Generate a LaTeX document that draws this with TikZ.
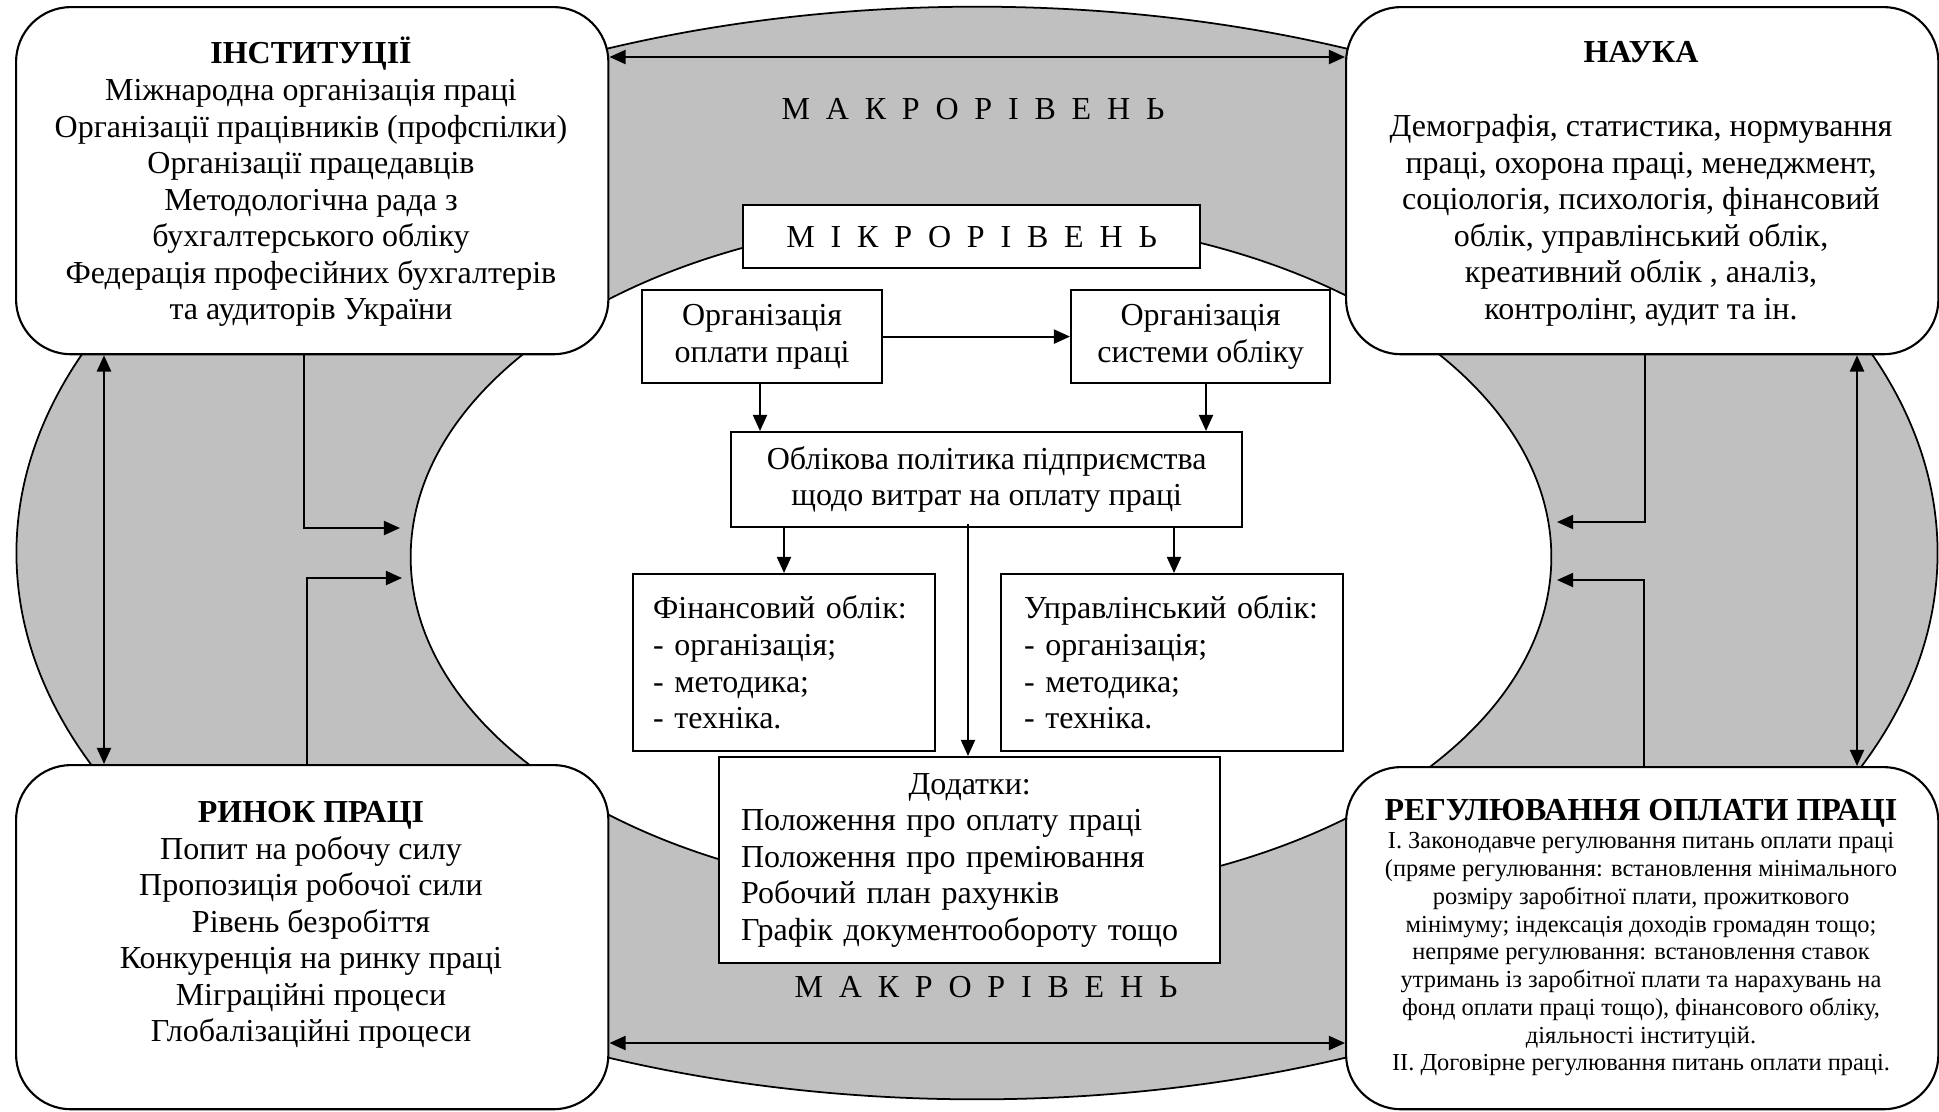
\documentclass[tikz,border=0pt]{standalone}
\usepackage{fontspec}
\setmainfont{Liberation Serif}
\usetikzlibrary{arrows.meta}
\definecolor{ringgray}{HTML}{C0C0C0}
\newcommand\Lgap{\hspace{4.5pt}}
\begin{document}
\begin{tikzpicture}[x=0.01cm,y=-0.01cm,
  font=\fontsize{9.1pt}{10.4pt}\selectfont,
  cbox/.style={draw, line width=0.6pt, fill=white, rounded corners=0.55cm, minimum width=5.92cm, inner sep=0pt, anchor=north west},
  sbox/.style={draw, line width=0.6pt, fill=white, align=center, inner sep=0pt, anchor=north west},
  lbox/.style={draw, line width=0.6pt, fill=white, align=left, inner ysep=0pt, anchor=north west},
  arr/.style={line width=0.6pt, -{Triangle[length=4.6pt,width=4pt]}},
  dbl/.style={line width=0.6pt, {Triangle[length=4.6pt,width=4pt]}-{Triangle[length=4.6pt,width=4pt]}},
  ring/.style={line width=0.5pt},
  small/.style={font=\fontsize{6.95pt}{7.9pt}\selectfont}
]
\useasboundingbox (0,0) rectangle (1939,1111);
% rings
\draw[ring, fill=ringgray] (977,553) ellipse [x radius=9.6cm, y radius=5.46cm];
\draw[ring, fill=white] (981,557) ellipse [x radius=5.7cm, y radius=3.4cm];
% macro labels
\node (macro1) at (973,109) {М\Lgap А\Lgap К\Lgap Р\Lgap О\Lgap Р\Lgap І\Lgap В\Lgap Е\Lgap Н\Lgap Ь};
\node (macro2) at (986,987) {М\Lgap А\Lgap К\Lgap Р\Lgap О\Lgap Р\Lgap І\Lgap В\Lgap Е\Lgap Н\Lgap Ь};
% corner boxes
\node[cbox, minimum height=3.47cm] (inst) at (15,6) {};
\node[cbox, minimum height=3.47cm] (nauka) at (1345,6) {};
\node[cbox, minimum height=3.44cm] (rynok) at (15,764) {};
\node[cbox, minimum height=3.42cm] (reg) at (1345,766) {};
\node[align=center, inner sep=0pt] (instt) at (311,182) {{\bfseries ІНСТИТУЦІЇ}\\Міжнародна організація праці\\Організації працівників (профспілки)\\Організації працедавців\\Методологічна рада з\\бухгалтерського обліку\\Федерація професійних бухгалтерів\\та аудиторів України};
\node[align=center, inner sep=0pt] (naukat) at (1641,184) {{\bfseries НАУКА}\\[10.6pt]Демографія, статистика, нормування\\праці, охорона праці, менеджмент,\\соціологія, психологія, фінансовий\\облік, управлінський облік,\\креативний облік , аналіз,\\контролінг, аудит та ін.};
\node[align=center, inner sep=0pt] (rynokt) at (311,925) {{\bfseries РИНОК ПРАЦІ}\\Попит на робочу силу\\Пропозиція робочої сили\\Рівень безробіття\\Конкуренція на ринку праці\\Міграційні процеси\\Глобалізаційні процеси};
\node[align=center, inner sep=0pt, small] (regt) at (1641,938) {{\fontsize{9.1pt}{10.4pt}\selectfont\bfseries РЕГУЛЮВАННЯ ОПЛАТИ ПРАЦІ}\\І. Законодавче регулювання питань оплати праці\\(пряме регулювання: встановлення мінімального\\розміру заробітної плати, прожиткового\\мінімуму; індексація доходів громадян тощо;\\непряме регулювання: встановлення ставок\\утримань із заробітної плати та нарахувань на\\фонд оплати праці тощо), фінансового обліку,\\діяльності інституцій.\\ІІ. Договірне регулювання питань оплати праці.};
% centre boxes
\node[sbox, minimum width=4.57cm, minimum height=0.63cm] (micro) at (742,204) {М\Lgap І\Lgap К\Lgap Р\Lgap О\Lgap Р\Lgap І\Lgap В\Lgap Е\Lgap Н\Lgap Ь};
\node[sbox, minimum width=2.40cm, minimum height=0.93cm] (org1) at (641,289) {Організація\\оплати праці};
\node[sbox, minimum width=2.59cm, minimum height=0.93cm] (org2) at (1070,289) {Організація\\системи обліку};
\node[sbox, minimum width=5.11cm, minimum height=0.95cm] (polit) at (730,431) {Облікова політика підприємства\\щодо витрат на оплату праці};
\node[lbox, inner xsep=0.2cm, text width=2.62cm, minimum height=1.77cm] (fin) at (632,573) {Фінансовий облік:\\- організація;\\- методика;\\- техніка.};
\node[lbox, inner xsep=0.23cm, text width=2.96cm, minimum height=1.77cm] (upr) at (1000,573) {Управлінський облік:\\- організація;\\- методика;\\- техніка.};
\node[lbox, inner xsep=0.22cm, text width=4.57cm, minimum height=2.06cm] (dod) at (718,756) {\hspace*{\fill}Додатки:\hspace*{\fill}\null\\Положення про оплату праці\\Положення про преміювання\\Робочий план рахунків\\Графік документообороту тощо};
% helper coordinates
\coordinate (xa) at (760,0);
\coordinate (xb) at (1206,0);
\coordinate (xc) at (784,0);
\coordinate (xd) at (1174,0);
\coordinate (xe) at (968,0);
\coordinate (xl) at (104,0);
\coordinate (xr) at (1857,0);
\coordinate (yt) at (0,57);
\coordinate (yb) at (0,1043);
\coordinate (c1) at (304,0);
\coordinate (c2) at (307,0);
\coordinate (c3) at (1645,0);
\coordinate (c4) at (1644,0);
\coordinate (le1) at (400,528);
\coordinate (le2) at (402,578);
\coordinate (re1) at (1557,522);
\coordinate (re2) at (1557,580);
% centre connectors
\draw[arr] (org1.east) -- (org2.west);
\draw[arr] (org1.south -| xa) -- (polit.north -| xa);
\draw[arr] (org2.south -| xb) -- (polit.north -| xb);
\draw[arr] (polit.south -| xc) -- (fin.north -| xc);
\draw[arr] (polit.south -| xd) -- (upr.north -| xd);
\draw[arr] ([yshift=0.04cm]polit.south -| xe) -- (dod.north -| xe);
% outer connectors
\draw[dbl] (inst.east |- yt) -- (nauka.west |- yt);
\draw[dbl] (rynok.east |- yb) -- (reg.west |- yb);
\draw[dbl] (inst.south -| xl) -- (rynok.north -| xl);
\draw[dbl] (nauka.south -| xr) -- (reg.north -| xr);
\draw[arr] (inst.south -| c1) |- (le1);
\draw[arr] (rynok.north -| c2) |- (le2);
\draw[arr] (nauka.south -| c3) |- (re1);
\draw[arr] (reg.north -| c4) |- (re2);
\end{tikzpicture}
\end{document}
